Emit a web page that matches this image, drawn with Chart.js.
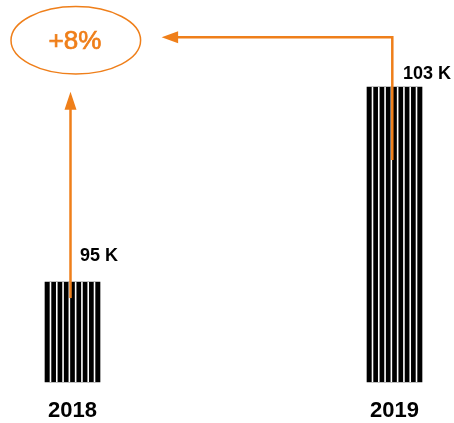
<!DOCTYPE html>
<html>
<head>
<meta charset="utf-8">
<script src="https://cdn.jsdelivr.net/npm/chart.js@4"></script>
<style>
  html, body { margin: 0; padding: 0; background: #fff; }
  #wrap { width: 454px; height: 423px; position: relative; }
</style>
</head>
<body>
<div id="wrap"><canvas id="chart"></canvas></div>
<script>
const years = ['2018', '2019'];
const visitors = [95, 103];
const yRange = [90.9, 106.57];

const ORANGE = '#EF7F1A';
const FONT = "'Helvetica Neue', Helvetica, 'Liberation Sans', Arial, sans-serif";

// white gaps cut into the black bars
const stripes = {
  id: 'stripes',
  afterDatasetsDraw(chart) {
    const ctx = chart.ctx;
    const gap = 1.6, n = 9;
    ctx.save();
    ctx.fillStyle = '#fff';
    chart.getDatasetMeta(0).data.forEach(bar => {
      const left = bar.x - bar.width / 2;
      const black = (bar.width - (n - 1) * gap) / n;
      for (let i = 0; i < n - 1; i++) {
        ctx.fillRect(left + black * (i + 1) + gap * i, bar.y, gap, bar.base - bar.y);
      }
    });
    ctx.restore();
  }
};

function arrowHead(ctx, tipX, tipY, dir) {
  ctx.beginPath();
  if (dir === 'up') {
    ctx.moveTo(tipX, tipY);
    ctx.lineTo(tipX - 6, tipY + 18);
    ctx.lineTo(tipX + 6, tipY + 18);
  } else {
    ctx.moveTo(tipX, tipY);
    ctx.lineTo(tipX + 16.5, tipY - 6);
    ctx.lineTo(tipX + 16.5, tipY + 6);
  }
  ctx.closePath();
  ctx.fill();
}

// value labels, arrows and the growth bubble
const growth = {
  id: 'growth',
  afterDraw(chart) {
    const ctx = chart.ctx;
    const [b0, b1] = chart.getDatasetMeta(0).data;
    ctx.save();

    ctx.fillStyle = '#000';
    ctx.font = 'bold 18px ' + FONT;
    ctx.textAlign = 'left';
    ctx.textBaseline = 'alphabetic';
    ctx.fillText(visitors[0] + ' K', b0.x + 7.5, b0.y - 21);
    ctx.fillText(visitors[1] + ' K', b1.x + 8.5, b1.y - 8);

    const cx = b0.x + 3.3, cy = 40.3, rx = 64.8, ry = 33.7;
    ctx.strokeStyle = ORANGE;
    ctx.fillStyle = ORANGE;
    ctx.lineWidth = 1.5;
    ctx.beginPath();
    ctx.ellipse(cx, cy, rx, ry, 0, 0, Math.PI * 2);
    ctx.stroke();

    const pct = Math.round((visitors[1] - visitors[0]) / visitors[0] * 100);
    ctx.font = '26px ' + FONT;
    ctx.textAlign = 'center';
    ctx.textBaseline = 'middle';
    ctx.fillText('+' + pct + '%', cx - 0.8, cy + 2);
    ctx.lineWidth = 0.7;
    ctx.strokeText('+' + pct + '%', cx - 0.8, cy + 2);

    ctx.lineWidth = 2.5;
    // 2018 bar up to the bubble
    const lx = b0.x - 2;
    const upTip = cy + ry + 17.7;
    ctx.beginPath();
    ctx.moveTo(lx, b0.y + 16);
    ctx.lineTo(lx, upTip + 10);
    ctx.stroke();
    arrowHead(ctx, lx, upTip, 'up');

    // 2019 bar up and left to the bubble
    const rxLine = b1.x - 2.2;
    const hy = 37.3;
    const leftTip = cx + rx + 21;
    ctx.beginPath();
    ctx.moveTo(rxLine, b1.y + 73);
    ctx.lineTo(rxLine, hy);
    ctx.lineTo(leftTip + 10, hy);
    ctx.stroke();
    arrowHead(ctx, leftTip, hy, 'left');

    ctx.restore();
  }
};

new Chart(document.getElementById('chart'), {
  type: 'bar',
  data: {
    labels: years,
    datasets: [{
      data: visitors,
      base: yRange[0],
      backgroundColor: '#000',
      barThickness: 55,
      clip: false
    }]
  },
  options: {
    responsive: true,
    maintainAspectRatio: false,
    animation: false,
    layout: { padding: { left: 72.5, right: 59.5, top: 0, bottom: 0 } },
    plugins: {
      legend: { display: false },
      tooltip: { enabled: false }
    },
    scales: {
      x: {
        offset: false,
        grid: { display: false, drawTicks: false },
        border: { display: false },
        ticks: {
          color: '#000',
          padding: 16,
          font: { family: FONT, size: 22, weight: 'bold' }
        },
        afterFit: scale => { scale.height = 41; }
      },
      y: {
        display: false,
        min: yRange[0],
        max: yRange[1]
      }
    }
  },
  plugins: [stripes, growth]
});
</script>
</body>
</html>
